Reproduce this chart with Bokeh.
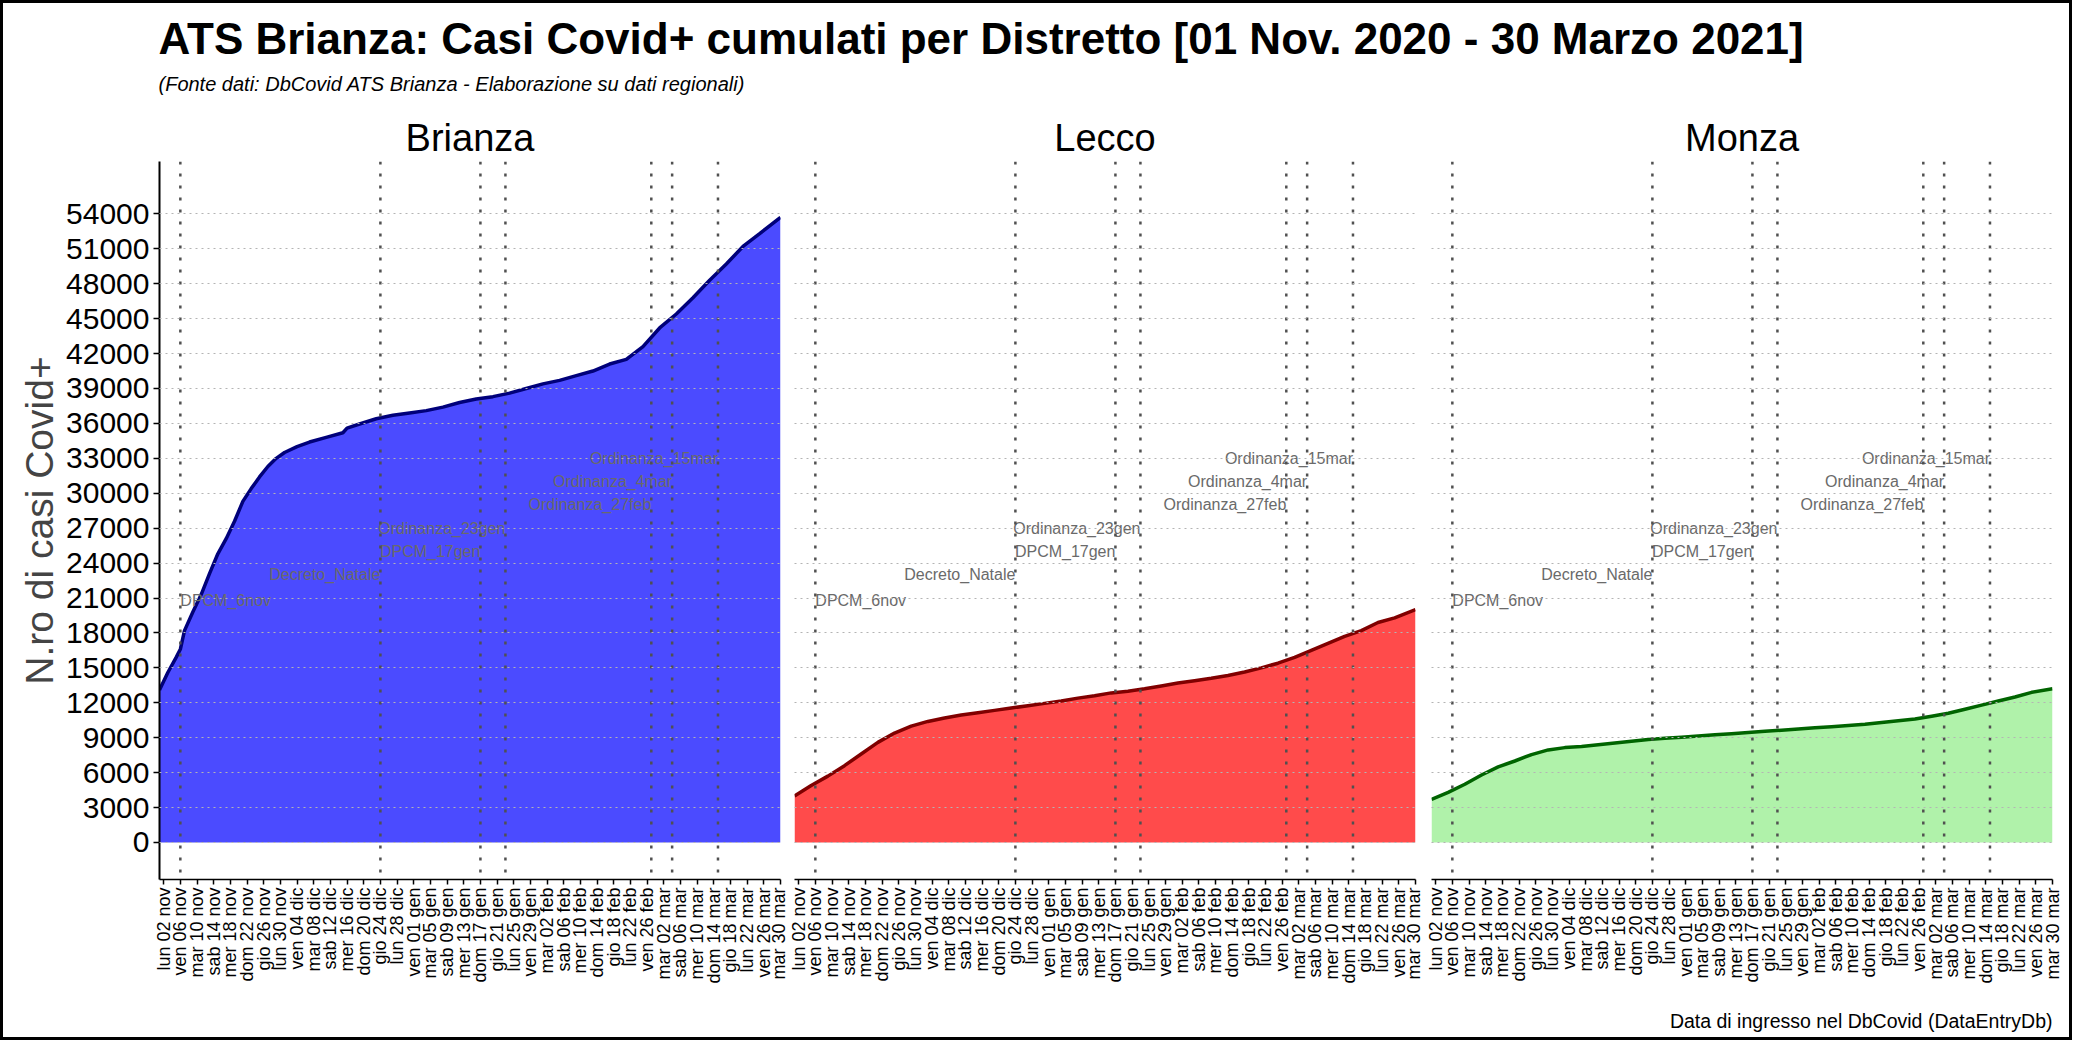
from math import pi
from bokeh.plotting import figure
from bokeh.layouts import row, column
from bokeh.models import Range1d, FixedTicker, Title, Span, Grid, InlineStyleSheet, Spacer
from bokeh.embed import file_html
from bokeh.resources import INLINE
from bokeh.core.properties import value

FONT = "Liberation Sans"

title_text = "ATS Brianza: Casi Covid+ cumulati per Distretto [01 Nov. 2020 - 30 Marzo 2021]"
subtitle_text = "(Fonte dati: DbCovid ATS Brianza - Elaborazione su dati regionali)"
caption_text = "Data di ingresso nel DbCovid (DataEntryDb)"
y_label = "N.ro di casi Covid+"
districts = ["Brianza", "Lecco", "Monza"]

# day index: 0 = dom 01 nov 2020 ... 149 = mar 30 mar 2021
brianza_days = [0, 2, 4, 5, 6, 8, 10, 12, 14, 16, 18, 20, 22, 24, 26, 28, 30, 33, 36, 40, 44, 45, 48,
                52, 56, 60, 64, 68, 72, 76, 80, 84, 88, 92, 96, 100, 104, 108, 112, 116, 120, 124,
                128, 132, 136, 140, 144, 149]
brianza_vals = [13100, 14600, 15900, 16600, 18200, 19800, 21300, 23100, 24800, 26100, 27600, 29300,
                30400, 31400, 32300, 33000, 33500, 34000, 34400, 34800, 35200, 35600, 35950, 36400,
                36700, 36900, 37100, 37400, 37800, 38100, 38300, 38600, 39000, 39400, 39700, 40100,
                40500, 41100, 41500, 42600, 44200, 45400, 46800, 48300, 49700, 51200, 52300, 53700]

lecco_days = [0, 4, 8, 12, 16, 20, 24, 28, 32, 36, 40, 44, 48, 52, 56, 60, 64, 68, 72, 76, 80, 84,
              88, 92, 96, 100, 104, 108, 112, 116, 120, 124, 128, 132, 136, 140, 144, 149]
lecco_vals = [4000, 4900, 5700, 6600, 7600, 8600, 9400, 10000, 10400, 10700, 10950, 11150, 11350,
              11550, 11750, 11950, 12150, 12400, 12600, 12850, 13000, 13200, 13450, 13700, 13900,
              14100, 14350, 14650, 15000, 15400, 15900, 16500, 17100, 17700, 18200, 18900, 19300, 20000]

monza_days = [0, 4, 8, 12, 16, 20, 24, 28, 32, 36, 40, 44, 48, 52, 56, 60, 64, 68, 72, 76, 80, 84,
              88, 92, 96, 100, 104, 108, 112, 116, 120, 124, 128, 132, 136, 140, 144, 149]
monza_vals = [3700, 4300, 5000, 5800, 6500, 7000, 7550, 7950, 8150, 8250, 8400, 8550, 8700, 8850,
              8950, 9050, 9150, 9250, 9350, 9450, 9550, 9650, 9750, 9850, 9950, 10050, 10150, 10300,
              10450, 10600, 10850, 11100, 11450, 11800, 12150, 12500, 12900, 13200]

x_tick_days = list(range(1, 150, 4))
x_tick_labels = [
    "lun 02 nov", "ven 06 nov", "mar 10 nov", "sab 14 nov", "mer 18 nov", "dom 22 nov", "gio 26 nov", "lun 30 nov",
    "ven 04 dic", "mar 08 dic", "sab 12 dic", "mer 16 dic", "dom 20 dic", "gio 24 dic", "lun 28 dic",
    "ven 01 gen", "mar 05 gen", "sab 09 gen", "mer 13 gen", "dom 17 gen", "gio 21 gen", "lun 25 gen", "ven 29 gen",
    "mar 02 feb", "sab 06 feb", "mer 10 feb", "dom 14 feb", "gio 18 feb", "lun 22 feb", "ven 26 feb",
    "mar 02 mar", "sab 06 mar", "mer 10 mar", "dom 14 mar", "gio 18 mar", "lun 22 mar", "ven 26 mar", "mar 30 mar",
]
y_ticks = list(range(0, 54001, 3000))

event_days = [5, 53, 77, 83, 118, 123, 134]
event_labels = ["DPCM_6nov", "Decreto_Natale", "DPCM_17gen", "Ordinanza_23gen",
                "Ordinanza_27feb", "Ordinanza_4mar", "Ordinanza_15mar"]
event_label_y = [20800, 23000, 25000, 27000, 29000, 31000, 33000]
event_align = ["left", "right", "right", "right", "right", "right", "right"]

fills = ["#4b4bff", "#ff4b4b", "#b0f2aa"]
lines = ["#00007a", "#800000", "#006400"]

X_RANGE = (0, 149)
Y_RANGE = (-3180, 58500)
FW, FH = 621, 718
TOTAL_W, TOTAL_H = 2072, 1040


def make_panel(i, days, vals, mb_left, mb_right):
    first = i == 0
    p = figure(frame_width=FW, frame_height=FH, x_range=Range1d(*X_RANGE), y_range=Range1d(*Y_RANGE),
               toolbar_location=None, output_backend="svg", title=districts[i],
               y_axis_location="left" if first else None,
               min_border_left=mb_left, min_border_right=mb_right, min_border_top=0, min_border_bottom=0,
               outline_line_color=None, background_fill_color="white", border_fill_color="white")
    p.title.align = "center"
    p.title.text_font = FONT
    p.title.text_font_size = "38px"
    p.title.text_font_style = "normal"
    p.title.text_color = "black"
    p.title.standoff = 6

    p.grid.visible = False
    g = Grid(dimension=1, ticker=FixedTicker(ticks=y_ticks), grid_line_color="#b4b4b4",
             grid_line_dash="2 4", grid_line_width=1)
    g.level = "overlay"
    p.add_layout(g)

    p.varea(x=days, y1=0, y2=vals, fill_color=fills[i], fill_alpha=1.0)
    p.line(x=days, y=vals, line_color=lines[i], line_width=3.5)

    for d in event_days:
        p.add_layout(Span(location=d, dimension="height", line_color="#505050",
                          line_width=2.5, line_dash="3 9"))

    for al in ("left", "right"):
        idx = [k for k, a in enumerate(event_align) if a == al]
        p.text(x=[event_days[k] for k in idx], y=[event_label_y[k] for k in idx],
               text=[event_labels[k] for k in idx], text_align=al, text_baseline="middle",
               text_font=value(FONT), text_font_size="16px", text_color="#6a6a6a")

    ax = p.xaxis[0]
    ax.ticker = FixedTicker(ticks=x_tick_days)
    ax.major_label_overrides = {d: lab for d, lab in zip(x_tick_days, x_tick_labels)}
    ax.major_label_orientation = pi / 2
    ax.major_label_text_font = FONT
    ax.major_label_text_font_size = "18px"
    ax.major_label_text_color = "black"
    ax.major_label_standoff = 3
    ax.major_tick_in = 0
    ax.major_tick_out = 5
    ax.minor_tick_line_color = None
    ax.axis_line_width = 1.5
    ax.major_tick_line_width = 1.5

    if first:
        ya = p.yaxis[0]
        ya.ticker = FixedTicker(ticks=y_ticks)
        ya.major_label_text_font = FONT
        ya.major_label_text_font_size = "30px"
        ya.major_label_text_color = "black"
        ya.major_label_standoff = 4
        ya.major_tick_in = 0
        ya.major_tick_out = 6
        ya.minor_tick_line_color = None
        ya.axis_line_width = 2
        ya.major_tick_line_width = 1.5
        ya.axis_label = y_label
        ya.axis_label_text_font = FONT
        ya.axis_label_text_font_size = "39px"
        ya.axis_label_text_font_style = "normal"
        ya.axis_label_standoff = 2
    return p


p1 = make_panel(0, brianza_days, brianza_vals, 159, 8)
p2 = make_panel(1, lecco_days, lecco_vals, 6, 8)
p3 = make_panel(2, monza_days, monza_vals, 8, 20)
p3.add_layout(Title(text=caption_text, align="right", text_font=FONT, text_font_size="19.5px",
                    text_font_style="normal", text_color="black", standoff=42), "below")

header = figure(width=TOTAL_W, height=106, x_range=Range1d(0, 1), y_range=Range1d(0, 1),
                toolbar_location=None, output_backend="svg", title=None,
                x_axis_location=None, y_axis_location=None,
                min_border_left=158, min_border_right=0, min_border_top=0, min_border_bottom=0,
                outline_line_color=None)
header.grid.visible = False
header.add_layout(Title(text=subtitle_text, align="left", text_font=FONT, text_font_size="20px",
                        text_font_style="italic", text_color="black", standoff=2), "above")
header.add_layout(Title(text=title_text, align="left", text_font=FONT, text_font_size="44px",
                        text_font_style="bold", text_color="black", standoff=13), "above")
header.scatter(x=[], y=[])

frame_css = InlineStyleSheet(css="""
:host { position: relative; }
:host::after {
  content: ""; position: absolute; left: 0; top: 0; right: 0; bottom: 0;
  border: 3px solid black; pointer-events: none; z-index: 100;
}
""")
layout = column(Spacer(width=TOTAL_W, height=5), header, row(p1, p2, p3),
                width=TOTAL_W, height=TOTAL_H, stylesheets=[frame_css])

open("out.html", "w").write(file_html(layout, INLINE))
